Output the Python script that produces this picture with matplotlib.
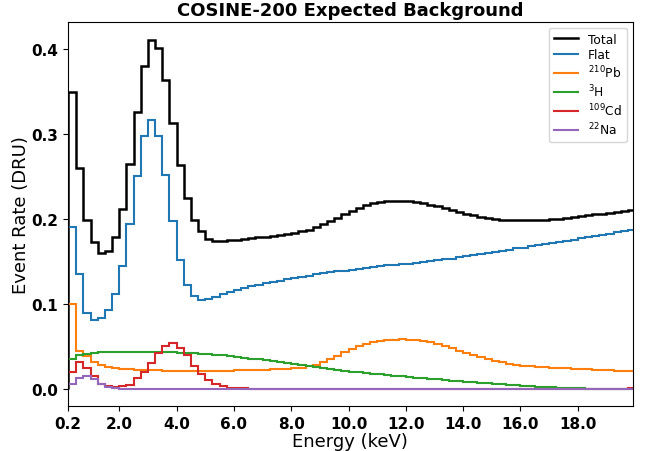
import numpy as np
import matplotlib
matplotlib.use("Agg")
import matplotlib.pyplot as plt

# bin edges (keV): first bin starts at the 0.2 keV threshold
edges = np.concatenate([[0.2], np.arange(0.5, 20.01, 0.25)])

total = [
    0.349, 0.260, 0.199, 0.172, 0.160, 0.162, 0.178, 0.211, 0.264, 0.325,
    0.380, 0.410, 0.401, 0.363, 0.313, 0.263, 0.224, 0.199, 0.185, 0.176,
    0.174, 0.174, 0.175, 0.1755, 0.176, 0.177, 0.178, 0.179, 0.180, 0.181,
    0.182, 0.1835, 0.185, 0.187, 0.190, 0.1935, 0.197, 0.201, 0.205, 0.209,
    0.2125, 0.2155, 0.218, 0.2195, 0.2205, 0.221, 0.221, 0.2205, 0.2195, 0.218,
    0.2165, 0.2145, 0.2125, 0.2105, 0.208, 0.206, 0.204, 0.2025, 0.201, 0.200,
    0.199, 0.1985, 0.198, 0.198, 0.198, 0.1985, 0.199, 0.1995, 0.200, 0.201,
    0.202, 0.203, 0.204, 0.205, 0.206, 0.207, 0.208, 0.209, 0.210,
]
flat = [
    0.190, 0.1355, 0.0888, 0.0803, 0.0838, 0.0923, 0.111, 0.144, 0.194, 0.250,
    0.297, 0.316, 0.297, 0.251, 0.197, 0.151, 0.1215, 0.109, 0.104, 0.105,
    0.108, 0.111, 0.1135, 0.116, 0.118, 0.1205, 0.1225, 0.124, 0.1255, 0.127,
    0.1285, 0.130, 0.1315, 0.133, 0.1345, 0.136, 0.137, 0.138, 0.139, 0.140,
    0.141, 0.142, 0.143, 0.144, 0.145, 0.146, 0.1465, 0.147, 0.148, 0.149,
    0.150, 0.151, 0.152, 0.153, 0.1545, 0.156, 0.157, 0.158, 0.1595, 0.161,
    0.162, 0.1635, 0.165, 0.166, 0.1675, 0.169, 0.170, 0.1715, 0.173, 0.174,
    0.1755, 0.177, 0.178, 0.1795, 0.181, 0.1825, 0.184, 0.1855, 0.187,
]
pb210 = [
    0.100, 0.045, 0.038, 0.032, 0.028, 0.026, 0.0245, 0.0235, 0.023, 0.0225,
    0.022, 0.0218, 0.0215, 0.0213, 0.0212, 0.0211, 0.021, 0.021, 0.021, 0.021,
    0.021, 0.0212, 0.0213, 0.0215, 0.0217, 0.022, 0.0222, 0.0225, 0.0228, 0.023,
    0.0235, 0.024, 0.025, 0.0265, 0.028, 0.031, 0.035, 0.039, 0.043, 0.0465,
    0.050, 0.0525, 0.0545, 0.056, 0.057, 0.0578, 0.058, 0.0577, 0.057, 0.056,
    0.0545, 0.0525, 0.050, 0.0475, 0.045, 0.042, 0.0395, 0.037, 0.0345, 0.0325,
    0.031, 0.0295, 0.0283, 0.0273, 0.0265, 0.026, 0.0255, 0.025, 0.0245, 0.024,
    0.0237, 0.0234, 0.023, 0.0226, 0.0222, 0.0218, 0.0214, 0.021, 0.0207,
]
h3 = [
    0.0355, 0.0395, 0.0410, 0.0420, 0.0427, 0.0432, 0.0435, 0.0437, 0.0438, 0.0438,
    0.0437, 0.0436, 0.0434, 0.0431, 0.0428, 0.0424, 0.0420, 0.0415, 0.0410, 0.0405,
    0.0400, 0.0393, 0.0385, 0.0375, 0.0365, 0.0355, 0.0345, 0.0333, 0.0322, 0.0311,
    0.0300, 0.0288, 0.0277, 0.0265, 0.0253, 0.0241, 0.0230, 0.0221, 0.0212, 0.0203,
    0.0195, 0.0187, 0.0179, 0.0171, 0.0163, 0.0155, 0.0147, 0.0139, 0.0131, 0.0124,
    0.0117, 0.0110, 0.0103, 0.0096, 0.0089, 0.0082, 0.0076, 0.0070, 0.0064, 0.0058,
    0.0052, 0.0046, 0.0041, 0.0036, 0.0031, 0.0026, 0.0022, 0.0018, 0.0014, 0.0011,
    0.0008, 0.0005, 0.0003, 0.0, 0.0, 0.0, 0.0, 0.0, 0.0,
]
cd109 = [
    0.020, 0.031, 0.024, 0.015, 0.006, 0.003, 0.002, 0.003, 0.005, 0.0125,
    0.0195, 0.030, 0.0415, 0.050, 0.0535, 0.0485, 0.040, 0.027, 0.0175, 0.0105,
    0.006, 0.0035, 0.0015, 0.0008, 0.0004, 0.0, 0.0, 0.0, 0.0, 0.0,
    0.0, 0.0, 0.0, 0.0, 0.0, 0.0, 0.0, 0.0, 0.0, 0.0,
    0.0, 0.0, 0.0, 0.0, 0.0, 0.0, 0.0, 0.0, 0.0, 0.0,
    0.0, 0.0, 0.0, 0.0, 0.0, 0.0, 0.0, 0.0, 0.0, 0.0,
    0.0, 0.0, 0.0, 0.0, 0.0, 0.0, 0.0, 0.0, 0.0, 0.0,
    0.0, 0.0, 0.0, 0.0, 0.0, 0.0, 0.0, 0.0, 0.001,
]
na22 = [
    0.006, 0.0125, 0.015, 0.0115, 0.006, 0.002, 0.0005, 0.0, 0.0, 0.0,
] + [0.0] * 69

series = [
    ("Total", total, "black", 1.8),
    ("Flat", flat, "tab:blue", 1.5),
    ("$^{210}$Pb", pb210, "tab:orange", 1.5),
    ("$^{3}$H", h3, "tab:green", 1.5),
    ("$^{109}$Cd", cd109, "tab:red", 1.5),
    ("$^{22}$Na", na22, "tab:purple", 1.5),
]

xticks = [0.2, 2.0, 4.0, 6.0, 8.0, 10.0, 12.0, 14.0, 16.0, 18.0]
yticks = [0.0, 0.1, 0.2, 0.3, 0.4]

fig, ax = plt.subplots(figsize=(6.47, 4.52), dpi=100)
fig.subplots_adjust(left=0.1046, right=0.978, top=0.9498, bottom=0.0989)

for label, vals, color, lw in series:
    ax.stairs(vals, edges, color=color, linewidth=lw, label=label)

ax.set_xlim(0.2, 19.92)
ax.set_ylim(-0.0206, 0.4316)
ax.set_xticks(xticks)
ax.set_xticklabels([f"{t:.1f}" for t in xticks], fontweight="bold", fontsize=11)
ax.set_yticks(yticks)
ax.set_yticklabels([f"{t:.1f}" for t in yticks], fontweight="bold", fontsize=11)

ax.set_xlabel("Energy (keV)", fontsize=13, labelpad=1)
ax.set_ylabel("Event Rate (DRU)", fontsize=13, labelpad=1)
ax.set_title("COSINE-200 Expected Background", fontsize=13, fontweight="bold", pad=5)
ax.legend(loc="upper right", fontsize=8.8, labelspacing=0.2)

fig.savefig("out.png", dpi=100)
